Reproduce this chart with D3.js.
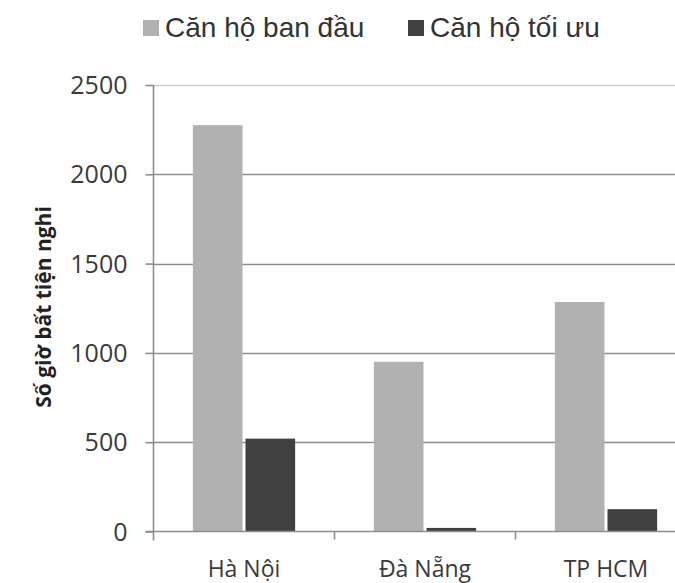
<!DOCTYPE html>
<html>
<head>
<meta charset="utf-8">
<script src="https://cdn.jsdelivr.net/npm/d3@7"></script>
<style>
  html, body { margin: 0; padding: 0; background: #fff; }
  svg { display: block; }
</style>
</head>
<body>
<svg id="chart" width="675" height="583"></svg>
<script>
// Cities on the x axis
const cities = ["Hà Nội", "Đà Nẵng", "TP HCM"];
// Series names (legend)
const seriesNames = ["Căn hộ ban đầu", "Căn hộ tối ưu"];
// Discomfort hours per city
const originalHours = [2275, 950, 1285];
const optimizedHours = [520, 20, 125];
// Y axis ticks
const yTicks = [0, 500, 1000, 1500, 2000, 2500];
const yTitle = "Số giờ bất tiện nghi";

const colors = ["#b1b1b1", "#404040"];

const svg = d3.select("#chart");
const plotLeft = 153.5, plotRight = 696.5, plotTop = 85, plotBottom = 531.5;

const y = d3.scaleLinear().domain([0, 2500]).range([plotBottom, plotTop]);
const x0 = d3.scaleBand().domain(cities).range([plotLeft, plotRight])
  .paddingInner(0.435).paddingOuter(0.2175);
const x1 = d3.scaleBand().domain(seriesNames).range([0, x0.bandwidth()]).padding(0);

const rows = cities.map((c, i) => ({ city: c, values: [originalHours[i], optimizedHours[i]] }));

// Horizontal gridlines
svg.append("g").selectAll("line").data(yTicks.filter(t => t > 0)).join("line")
  .attr("x1", plotLeft).attr("x2", 675)
  .attr("y1", d => Math.round(y(d)) + 0.5).attr("y2", d => Math.round(y(d)) + 0.5)
  .attr("stroke", d => d === 2500 ? "#cfcfcf" : "#8e8e8e")
  .attr("stroke-width", 1.6);

// Bars
const groups = svg.append("g").selectAll("g").data(rows).join("g")
  .attr("transform", d => `translate(${x0(d.city)},0)`);
groups.selectAll("rect").data(d => d.values.map((v, k) => ({ key: seriesNames[k], v, k })))
  .join("rect")
  .attr("x", d => x1(d.key) + (d.k === 1 ? 1.5 : 0))
  .attr("width", d => x1.bandwidth() - 1.5)
  .attr("y", d => y(d.v))
  .attr("height", d => plotBottom - y(d.v))
  .attr("fill", d => colors[d.k]);

// Y axis
const yAxis = d3.axisLeft(y).tickValues(yTicks).tickFormat(d3.format("d"))
  .tickSize(8).tickPadding(18).tickSizeOuter(0);
const gy = svg.append("g").attr("transform", `translate(${plotLeft},0)`).call(yAxis);
gy.select(".domain").remove();
gy.append("line").attr("x1", 0).attr("x2", 0).attr("y1", plotTop).attr("y2", plotBottom + 9)
  .attr("stroke", "#8e8e8e").attr("stroke-width", 1.6);
gy.selectAll(".tick line").attr("stroke", "#8e8e8e").attr("stroke-width", 1.6);
gy.selectAll(".tick text")
  .attr("font-family", "'Open Sans', 'Noto Sans', sans-serif")
  .attr("font-size", 25).attr("fill", "#3a3a3a").attr("dy", "0.34em");

// X axis baseline, category separators and labels
svg.append("line").attr("x1", plotLeft - 8).attr("x2", 675)
  .attr("y1", plotBottom).attr("y2", plotBottom)
  .attr("stroke", "#8e8e8e").attr("stroke-width", 1.6);
const step = x0.step();
const seps = cities.slice(1).map(c => x0(c) - x0.paddingInner() * step / 2);
svg.append("g").selectAll("line").data(seps).join("line")
  .attr("x1", d => d).attr("x2", d => d)
  .attr("y1", plotBottom).attr("y2", plotBottom + 8)
  .attr("stroke", "#8e8e8e").attr("stroke-width", 1.6);
svg.append("g").selectAll("text").data(cities).join("text")
  .attr("x", d => x0(d) + x0.bandwidth() / 2)
  .attr("y", 577)
  .attr("text-anchor", "middle")
  .attr("font-family", "'Open Sans', 'Noto Sans', sans-serif")
  .attr("font-size", 23).attr("fill", "#3a3a3a")
  .text(d => d);

// Y axis title
svg.append("text")
  .attr("transform", `translate(51,${(193 + 421) / 2}) rotate(-90)`)
  .attr("text-anchor", "middle")
  .attr("font-family", "'Open Sans', 'Noto Sans', sans-serif")
  .attr("font-weight", "bold")
  .attr("font-size", 21).attr("fill", "#222")
  .text(yTitle);

// Legend
const legendX = [143, 408];
const lg = svg.append("g").selectAll("g").data(seriesNames).join("g")
  .attr("transform", (d, i) => `translate(${legendX[i]},20)`);
lg.append("rect").attr("width", 16).attr("height", 16).attr("y", 0)
  .attr("fill", (d, i) => colors[i]);
lg.append("text").attr("x", 22).attr("y", 16.5)
  .attr("font-family", "'Liberation Sans', Arial, sans-serif")
  .attr("font-size", 28).attr("fill", "#333")
  .text(d => d);
</script>
</body>
</html>
